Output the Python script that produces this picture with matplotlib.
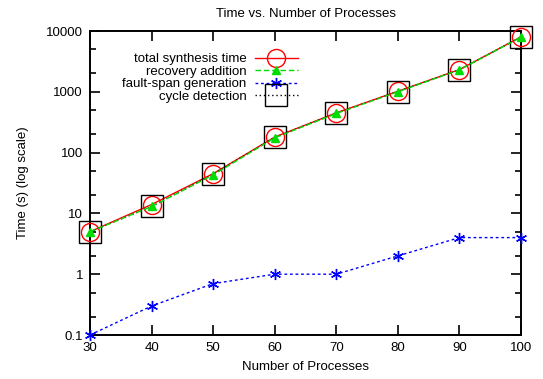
import matplotlib
matplotlib.use("Agg")
import matplotlib.pyplot as plt
from matplotlib.ticker import FixedLocator, FixedFormatter, LogLocator, NullFormatter

plt.rcParams['font.family'] = ['Liberation Sans', 'DejaVu Sans']
plt.rcParams['font.size'] = 9.5

processes = [30, 40, 50, 60, 70, 80, 90, 100]
total_synthesis = [5, 14, 45, 180, 450, 1020, 2320, 8000]
recovery_addition = [5, 13, 43, 175, 440, 1000, 2300, 7900]
fault_span = [0.1, 0.3, 0.7, 1, 1, 2, 4, 4]
cycle_detection = [5, 13, 44, 178, 445, 1010, 2310, 7950]

y_ticks = [0.1, 1, 10, 100, 1000, 10000]
y_tick_labels = ['0.1', '1', '10', '100', '1000', '10000']
x_ticks = [30, 40, 50, 60, 70, 80, 90, 100]

fig = plt.figure(figsize=(5.43, 3.79), dpi=100)
ax = fig.add_axes([90/543, 1-335/379, 431/543, 304/379])

ax.plot(processes, total_synthesis, color='#ff0000', linestyle='-', linewidth=1.0,
        marker='o', markersize=13, markerfacecolor='none', markeredgecolor='#ff0000',
        markeredgewidth=1.0, label='total synthesis time', clip_on=False, zorder=3)
ax.plot(processes, recovery_addition, color='#00dd00', linestyle=(0, (4, 2)), linewidth=1.0,
        marker='^', markersize=6, markerfacecolor='#00dd00', markeredgecolor='#00dd00',
        label='recovery addition', clip_on=False, zorder=4)
ax.plot(processes, fault_span, color='#0000ff', linestyle=(0, (2, 2)), linewidth=1.0,
        marker=(6, 2, 0), markersize=8, markeredgecolor='#0000ff', markeredgewidth=1.0,
        label='fault-span generation', clip_on=False, zorder=3)
ax.plot(processes, cycle_detection, color='black', linestyle=(0, (1, 2)), linewidth=1.0,
        marker='s', markersize=16, markerfacecolor='none', markeredgecolor='black',
        markeredgewidth=1.0, label='cycle detection', clip_on=False, zorder=3)

ax.set_yscale('log')
ax.set_xlim(30, 100)
ax.set_ylim(0.1, 10000)
ax.xaxis.set_major_locator(FixedLocator(x_ticks))
ax.yaxis.set_major_locator(FixedLocator(y_ticks))
ax.yaxis.set_major_formatter(FixedFormatter(y_tick_labels))
ax.yaxis.set_minor_locator(LogLocator(base=10, subs=(2, 5)))
ax.yaxis.set_minor_formatter(NullFormatter())

ax.tick_params(which='both', direction='in', top=True, right=True, width=1.2)
ax.tick_params(which='major', length=7, pad=5, labelsize=9.5)
ax.tick_params(which='minor', length=4)
for s in ax.spines.values():
    s.set_linewidth(1.4)

ax.set_xlabel('Number of Processes', fontsize=9.5, labelpad=5)
ax.set_ylabel('Time (s) (log scale)', fontsize=9.5, labelpad=12)
ax.set_title('Time vs. Number of Processes', fontsize=9.5, pad=10)

ax.legend(loc='upper right', bbox_to_anchor=(0.495, 0.945), frameon=False,
          markerfirst=False, handlelength=3.3, handletextpad=0.6,
          labelspacing=0.02, fontsize=9.5, borderaxespad=0)

fig.savefig('out.png', dpi=100)
